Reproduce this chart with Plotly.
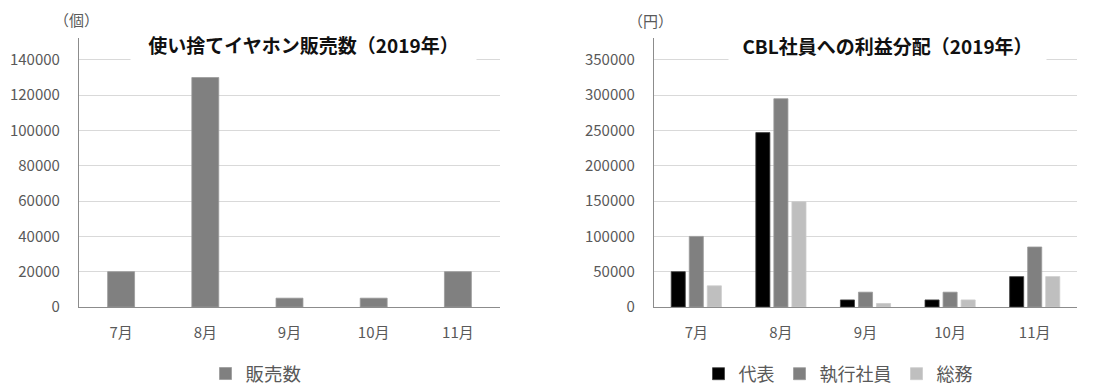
import plotly.graph_objects as go

months = ["7月", "8月", "9月", "10月", "11月"]
sales = [20000, 130000, 5000, 5000, 20000]
rep = [50000, 247000, 10000, 10000, 43000]
exec_staff = [100000, 295000, 21000, 21000, 85000]
general = [30000, 149000, 5000, 10000, 43000]

W, H = 1099, 385
FONT = "Noto Sans CJK JP"
TICK = "#595959"

def px(x):
    return x / W

def py(y):
    return 1 - y / H

fig = go.Figure()
fig.add_trace(go.Bar(x=months, y=sales, name="販売数", width=0.32,
                     marker=dict(color="#808080", line=dict(color="#9a9a9a", width=0.8)),
                     xaxis="x", yaxis="y", legend="legend"))
fig.add_trace(go.Bar(x=months, y=rep, name="代表", marker=dict(color="#000000", line=dict(color="#404040", width=0.8)),
                     xaxis="x2", yaxis="y2", legend="legend2"))
fig.add_trace(go.Bar(x=months, y=exec_staff, name="執行社員", marker=dict(color="#808080", line=dict(color="#9a9a9a", width=0.8)),
                     xaxis="x2", yaxis="y2", legend="legend2"))
fig.add_trace(go.Bar(x=months, y=general, name="総務", marker=dict(color="#bfbfbf", line=dict(color="#cccccc", width=0.8)),
                     xaxis="x2", yaxis="y2", legend="legend2"))

ydom = [py(307), py(38)]
common_x = dict(showline=True, linecolor="#8c8c8c", linewidth=1.2, showgrid=False, ticks="",
                tickfont=dict(family=FONT, size=15, color=TICK), ticklabelstandoff=12, fixedrange=True)
common_y = dict(showline=True, linecolor="#8c8c8c", linewidth=1.2, showgrid=True, gridcolor="#d9d9d9",
                gridwidth=1, ticks="", zeroline=False, tickformat="d",
                tickfont=dict(family=FONT, size=15, color=TICK), ticklabelstandoff=15)

fig.update_layout(
    width=W, height=H,
    margin=dict(l=0, r=0, t=0, b=0, autoexpand=False),
    paper_bgcolor="white", plot_bgcolor="white",
    barmode="group", bargap=0.36, bargroupgap=0.22,
    xaxis=dict(domain=[px(79), px(500)], anchor="y", **common_x),
    yaxis=dict(domain=ydom, anchor="x", range=[0, 152400], dtick=20000, **common_y),
    xaxis2=dict(domain=[px(654), px(1077)], anchor="y2", **common_x),
    yaxis2=dict(domain=ydom, anchor="x2", range=[0, 381000], dtick=50000, **common_y),
    legend=dict(orientation="h", x=px(256), y=py(374), xanchor="center", yanchor="middle",
                font=dict(family=FONT, size=18.5, color=TICK)),
    legend2=dict(orientation="h", x=px(838), y=py(374), xanchor="center", yanchor="middle",
                 font=dict(family=FONT, size=18, color=TICK)),
    showlegend=True,
)

fig.add_annotation(text="<b>使い捨てイヤホン販売数（2019年）</b>", x=px(303), y=py(44), xref="paper", yref="paper",
                   xanchor="center", yanchor="middle",
                   showarrow=False, font=dict(family=FONT, size=19, color="#111111"),
                   bgcolor="white", width=343, height=36)
fig.add_annotation(text="<b>CBL社員への利益分配（2019年）</b>", x=px(887), y=py(45), xref="paper", yref="paper",
                   xanchor="center", yanchor="middle",
                   showarrow=False, font=dict(family=FONT, size=19, color="#111111"),
                   bgcolor="white", width=315, height=36)
fig.add_annotation(text="（個）", x=px(76), y=py(19), xref="paper", yref="paper", showarrow=False,
                   xanchor="center", yanchor="middle",
                   font=dict(family=FONT, size=15, color=TICK))
fig.add_annotation(text="（円）", x=px(650), y=py(20), xref="paper", yref="paper", showarrow=False,
                   xanchor="center", yanchor="middle",
                   font=dict(family=FONT, size=15, color=TICK))

fig.write_html("out.html")
